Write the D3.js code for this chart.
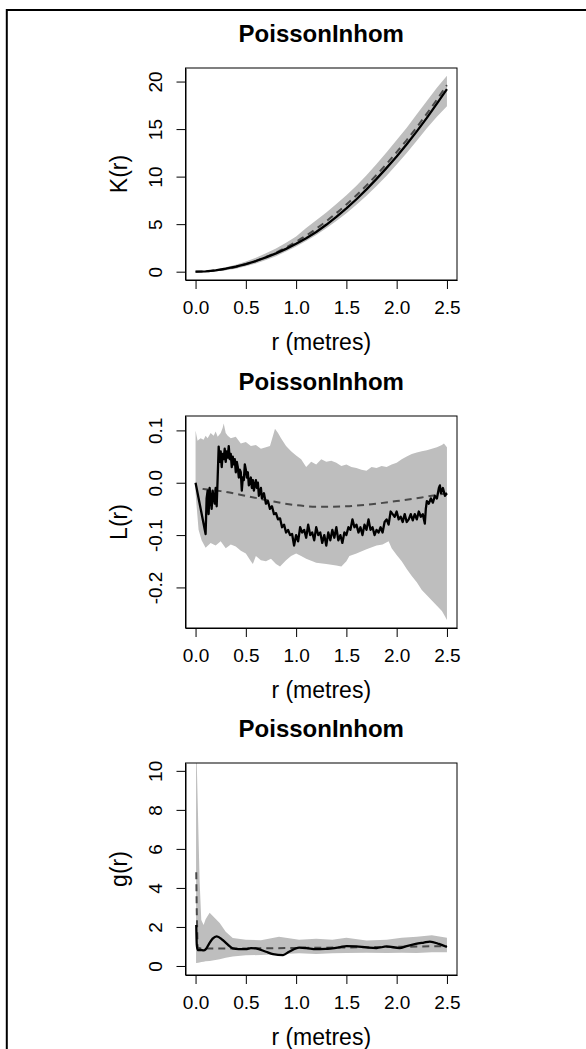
<!DOCTYPE html>
<html><head><meta charset="utf-8">
<script src="https://cdn.jsdelivr.net/npm/d3@7"></script>
<style>
html,body{margin:0;padding:0;background:#fff;}
svg{display:block;font-family:"Liberation Sans",Arial,Helvetica,sans-serif;}
</style></head>
<body>
<svg id="chart" width="586" height="1049"></svg>
<script>
// ---------- data ----------
const titleText = "PoissonInhom";
const xLabel = "r (metres)";
const xLim = [0, 2.5];
const xTicks = [0, 0.5, 1.0, 1.5, 2.0, 2.5];
const xTickLabels = ["0.0", "0.5", "1.0", "1.5", "2.0", "2.5"];

// Panel 1: K(r)
const kLabel = "K(r)";
const kYLim = [-0.05, 20.6];
const kTicks = [0, 5, 10, 15, 20];
const kTickLabels = ["0", "5", "10", "15", "20"];
const kR     = [0,0.1,0.2,0.3,0.4,0.5,0.6,0.7,0.8,0.9,1.0,1.1,1.2,1.3,1.4,1.5,1.6,1.7,1.8,1.9,2.0,2.1,2.2,2.3,2.4,2.5];
const kObs   = [0,0.03,0.14,0.31,0.52,0.80,1.12,1.50,1.93,2.40,2.93,3.52,4.18,4.93,5.77,6.66,7.62,8.66,9.76,10.92,12.12,13.40,14.76,16.18,17.68,19.20];
const kTheo  = [0,0.03,0.13,0.28,0.50,0.79,1.13,1.54,2.01,2.54,3.14,3.80,4.52,5.31,6.16,7.07,8.04,9.08,10.18,11.34,12.57,13.85,15.20,16.62,18.10,19.63];
const kHi    = [0,0.08,0.26,0.47,0.74,1.07,1.47,1.93,2.45,3.05,3.70,4.60,5.40,6.22,7.12,8.05,9.05,10.15,11.32,12.55,13.85,15.15,16.55,17.95,19.35,20.60];
const kLo    = [0,0,0.05,0.15,0.32,0.56,0.86,1.22,1.63,2.12,2.66,3.22,3.86,4.56,5.32,6.15,7.05,8.00,9.02,10.10,11.28,12.48,13.78,15.08,16.30,17.40];

// Panel 2: L(r)
const lLabel = "L(r)";
const lYLim = [-0.2625, 0.1125];
const lTicks = [-0.2, -0.1, 0.0, 0.1];
const lTickLabels = ["-0.2", "-0.1", "0.0", "0.1"];
const lObsR = [0,0.10,0.11,0.12,0.13,0.14,0.16,0.17,0.19,0.20,0.21,0.22,0.23,0.24,0.25,0.26,0.27,0.28,0.29,0.30,0.31,0.32,0.33,0.34,0.35,0.36,0.37,0.38,0.39,0.40,0.41,0.42,0.43,0.44,0.45,0.46,0.47,0.48,0.49,0.50,0.51,0.52,0.53,0.55,0.56,0.57,0.58,0.60,0.61,0.62,0.63,0.65,0.66,0.68,0.70,0.72,0.74,0.76,0.78,0.80,0.82,0.84,0.86,0.88,0.90,0.92,0.94,0.96,0.98,0.99,1.00,1.02,1.04,1.06,1.08,1.10,1.12,1.14,1.16,1.18,1.20,1.22,1.24,1.26,1.28,1.30,1.32,1.34,1.36,1.38,1.40,1.42,1.44,1.46,1.48,1.50,1.52,1.54,1.56,1.58,1.60,1.62,1.64,1.66,1.68,1.70,1.72,1.74,1.76,1.78,1.80,1.82,1.84,1.86,1.88,1.90,1.92,1.94,1.96,1.98,2.00,2.02,2.04,2.06,2.08,2.10,2.12,2.14,2.16,2.18,2.20,2.22,2.24,2.26,2.28,2.29,2.30,2.32,2.34,2.36,2.38,2.40,2.42,2.43,2.44,2.46,2.48,2.50];
const lObs  = [0,-0.098,-0.030,-0.015,-0.060,-0.010,-0.050,-0.015,-0.040,-0.010,-0.045,0.010,0.069,0.040,0.060,0.030,0.055,0.045,0.065,0.040,0.060,0.048,0.070,0.045,0.055,0.030,0.050,0.035,0.045,0.020,0.040,0.030,0.010,0.025,0.020,-0.015,0.010,0.005,0.035,0.025,0.010,0.020,-0.005,0.010,-0.010,0.005,-0.015,0.005,-0.010,0.000,-0.025,-0.010,-0.030,-0.020,-0.040,-0.035,-0.050,-0.045,-0.060,-0.058,-0.070,-0.068,-0.085,-0.080,-0.095,-0.090,-0.100,-0.098,-0.120,-0.110,-0.100,-0.112,-0.085,-0.095,-0.090,-0.105,-0.080,-0.100,-0.095,-0.110,-0.085,-0.100,-0.095,-0.115,-0.100,-0.120,-0.095,-0.110,-0.090,-0.105,-0.085,-0.110,-0.100,-0.115,-0.095,-0.100,-0.085,-0.090,-0.070,-0.085,-0.080,-0.095,-0.085,-0.100,-0.080,-0.090,-0.070,-0.090,-0.085,-0.100,-0.090,-0.095,-0.085,-0.095,-0.075,-0.070,-0.080,-0.055,-0.060,-0.065,-0.055,-0.070,-0.065,-0.075,-0.060,-0.075,-0.070,-0.060,-0.072,-0.060,-0.070,-0.055,-0.065,-0.060,-0.078,-0.050,-0.035,-0.040,-0.030,-0.038,-0.025,-0.030,-0.010,-0.005,-0.020,-0.010,-0.025,-0.020];
const lTheoR = [0.07,0.25,0.50,0.75,1.00,1.25,1.50,1.75,2.00,2.25,2.50];
const lTheo  = [-0.012,-0.016,-0.025,-0.035,-0.043,-0.046,-0.045,-0.041,-0.035,-0.028,-0.020];
const lHiR = [0,0.02,0.05,0.08,0.10,0.12,0.15,0.18,0.20,0.22,0.25,0.27,0.28,0.30,0.32,0.35,0.40,0.45,0.50,0.55,0.60,0.65,0.70,0.74,0.77,0.79,0.82,0.85,0.90,0.95,1.00,1.05,1.10,1.15,1.20,1.25,1.30,1.35,1.40,1.45,1.50,1.55,1.60,1.65,1.70,1.75,1.80,1.85,1.90,1.95,2.00,2.05,2.10,2.15,2.20,2.25,2.30,2.35,2.40,2.45,2.47,2.50];
const lHi  = [0.100,0.080,0.085,0.082,0.090,0.085,0.095,0.090,0.098,0.088,0.095,0.105,0.113,0.095,0.090,0.085,0.088,0.075,0.078,0.070,0.072,0.065,0.068,0.070,0.090,0.103,0.095,0.085,0.070,0.060,0.052,0.045,0.030,0.040,0.035,0.045,0.040,0.042,0.038,0.032,0.035,0.030,0.028,0.025,0.023,0.030,0.028,0.032,0.030,0.035,0.038,0.045,0.050,0.055,0.058,0.060,0.062,0.065,0.068,0.072,0.075,0.068];
const lLoR = [0,0.03,0.06,0.10,0.15,0.20,0.25,0.30,0.35,0.40,0.45,0.50,0.55,0.57,0.60,0.65,0.70,0.75,0.80,0.84,0.90,0.95,1.00,1.05,1.10,1.20,1.30,1.40,1.45,1.50,1.53,1.60,1.70,1.80,1.86,1.92,1.95,2.00,2.05,2.10,2.15,2.20,2.25,2.30,2.35,2.40,2.45,2.48,2.50];
const lLo  = [-0.020,-0.090,-0.110,-0.124,-0.115,-0.120,-0.112,-0.125,-0.118,-0.122,-0.130,-0.135,-0.150,-0.155,-0.140,-0.148,-0.150,-0.145,-0.155,-0.160,-0.148,-0.140,-0.135,-0.140,-0.145,-0.153,-0.155,-0.158,-0.160,-0.150,-0.140,-0.135,-0.127,-0.120,-0.118,-0.112,-0.125,-0.138,-0.150,-0.165,-0.178,-0.190,-0.205,-0.215,-0.225,-0.235,-0.245,-0.255,-0.262];

// Panel 3: g(r)
const gLabel = "g(r)";
const gYLim = [-0.06, 10.0];
const gTicks = [0, 2, 4, 6, 8, 10];
const gTickLabels = ["0", "2", "4", "6", "8", "10"];
const gObsR = [0.007,0.012,0.02,0.05,0.08,0.10,0.13,0.17,0.21,0.27,0.33,0.37,0.43,0.50,0.55,0.60,0.70,0.77,0.87,0.93,1.03,1.10,1.20,1.30,1.36,1.44,1.50,1.60,1.70,1.80,1.90,2.03,2.10,2.19,2.27,2.33,2.42,2.50];
const gObs  = [2.10,1.10,0.82,0.82,0.80,0.85,1.10,1.40,1.52,1.33,1.05,0.90,0.86,0.86,0.92,0.90,0.73,0.61,0.56,0.73,0.94,0.92,0.86,0.88,0.90,0.97,1.02,1.00,0.95,0.92,1.00,0.92,1.02,1.13,1.20,1.25,1.13,0.97];
const gTheoR = [0.007,0.012,0.02,0.05,0.50,1.00,1.50,2.00,2.50];
const gTheo  = [4.80,2.80,0.95,0.90,0.90,0.92,0.95,0.98,1.02];
const gBandR = [0.005,0.012,0.04,0.057,0.08,0.10,0.14,0.24,0.30,0.37,0.50,0.65,0.83,1.03,1.20,1.36,1.50,1.70,1.90,2.05,2.20,2.35,2.50];
const gHi    = [10.5,10.4,4.4,2.35,2.10,2.40,2.73,2.20,1.76,1.43,1.35,1.32,1.50,1.35,1.40,1.35,1.45,1.30,1.35,1.45,1.50,1.58,1.45];
const gLo    = [0.15,0.15,0.18,0.20,0.22,0.24,0.26,0.35,0.42,0.48,0.55,0.56,0.60,0.65,0.62,0.65,0.66,0.68,0.66,0.68,0.66,0.70,0.70];

// ---------- drawing ----------
const svg = d3.select("#chart");
const FONT_TICK = 19, FONT_LAB = 23, FONT_TITLE = 24;
const box = {left: 185.5, right: 457, h: 212};
const panelTops = [68, 416, 763];
const bandCol = "#bebebe";

// outer frame (top & left edges)
svg.append("line").attr("x1", 6.8).attr("x2", 586).attr("y1", 10).attr("y2", 10)
  .attr("stroke", "#000").attr("stroke-width", 2);
svg.append("line").attr("x1", 6.8).attr("x2", 6.8).attr("y1", 9).attr("y2", 1049)
  .attr("stroke", "#000").attr("stroke-width", 2);

function expand(lim) { const d = (lim[1] - lim[0]) * 0.04; return [lim[0] - d, lim[1] + d]; }

function zip(rs, vs) { return rs.map((r, i) => [r, vs[i]]); }

function panel(idx, cfg) {
  const top = panelTops[idx], bottom = top + box.h;
  const x = d3.scaleLinear().domain(expand(xLim)).range([box.left, box.right]);
  const y = d3.scaleLinear().domain(expand(cfg.ylim)).range([bottom, top]);
  const g = svg.append("g");
  const clipId = "clip" + idx;
  g.append("clipPath").attr("id", clipId).append("rect")
    .attr("x", box.left).attr("y", top).attr("width", box.right - box.left).attr("height", box.h);
  const plot = g.append("g").attr("clip-path", `url(#${clipId})`);

  // envelope band
  const hi = zip(cfg.hiR, cfg.hi), lo = zip(cfg.loR, cfg.lo);
  const poly = hi.concat(lo.slice().reverse());
  plot.append("path")
    .attr("d", d3.line().x(d => x(d[0])).y(d => y(d[1]))(poly) + "Z")
    .attr("fill", bandCol).attr("stroke", "none");

  // theoretical (dashed)
  plot.append("path")
    .attr("d", d3.line().curve(cfg.theoCurve || d3.curveLinear).x(d => x(d[0])).y(d => y(d[1]))(zip(cfg.theoR, cfg.theo)))
    .attr("fill", "none").attr("stroke", "#4a4a4a").attr("stroke-width", 2)
    .attr("stroke-dasharray", "7,5");

  // observed (solid)
  plot.append("path")
    .attr("d", d3.line().curve(cfg.obsCurve || d3.curveLinear).x(d => x(d[0])).y(d => y(d[1]))(zip(cfg.obsR, cfg.obs)))
    .attr("fill", "none").attr("stroke", "#000").attr("stroke-width", 2.3)
    .attr("stroke-linejoin", "round");

  // box
  g.append("rect").attr("x", box.left).attr("y", top)
    .attr("width", box.right - box.left).attr("height", box.h)
    .attr("fill", "none").attr("stroke", "#000").attr("stroke-width", 1);

  // x axis
  const xa = g.append("g").attr("transform", `translate(0,${bottom})`)
    .call(d3.axisBottom(x).tickValues(xTicks).tickFormat((d, i) => xTickLabels[i])
      .tickSizeOuter(0).tickSizeInner(9).tickPadding(12));
  xa.select(".domain").attr("stroke", "#000");
  xa.selectAll(".tick line").attr("stroke", "#000");
  xa.selectAll("text").attr("font-size", FONT_TICK).attr("fill", "#000")
    .attr("font-family", "Liberation Sans, Arial, sans-serif");

  // y axis
  const ya = g.append("g").attr("transform", `translate(${box.left},0)`)
    .call(d3.axisLeft(y).tickValues(cfg.yTicks).tickFormat((d, i) => cfg.yTickLabels[i])
      .tickSizeOuter(0).tickSizeInner(9));
  ya.select(".domain").attr("stroke", "#000");
  ya.selectAll(".tick line").attr("stroke", "#000");
  ya.selectAll("text").attr("font-size", FONT_TICK).attr("fill", "#000")
    .attr("font-family", "Liberation Sans, Arial, sans-serif")
    .attr("transform", "rotate(-90)").attr("x", 0).attr("y", -30).attr("dy", "0.36em")
    .attr("text-anchor", "middle");

  // labels
  g.append("text").attr("x", (box.left + box.right) / 2).attr("y", bottom + 62)
    .attr("dy", "0.36em").attr("text-anchor", "middle").attr("font-size", FONT_LAB)
    .text(xLabel);
  g.append("text").attr("transform", `translate(${box.left - 67},${(top + bottom) / 2}) rotate(-90)`)
    .attr("dy", "0.36em").attr("text-anchor", "middle").attr("font-size", FONT_LAB)
    .text(cfg.ylab);
  g.append("text").attr("x", (box.left + box.right) / 2).attr("y", top - 35)
    .attr("dy", "0.36em").attr("text-anchor", "middle").attr("font-size", FONT_TITLE)
    .attr("font-weight", "bold").text(titleText);
}

panel(0, {ylim: kYLim, yTicks: kTicks, yTickLabels: kTickLabels, ylab: kLabel,
  hiR: kR, hi: kHi, loR: kR, lo: kLo, theoR: kR, theo: kTheo, obsR: kR, obs: kObs,
  theoCurve: d3.curveMonotoneX, obsCurve: d3.curveLinear});
panel(1, {ylim: lYLim, yTicks: lTicks, yTickLabels: lTickLabels, ylab: lLabel,
  hiR: lHiR, hi: lHi, loR: lLoR, lo: lLo, theoR: lTheoR, theo: lTheo, obsR: lObsR, obs: lObs,
  theoCurve: d3.curveMonotoneX});
panel(2, {ylim: gYLim, yTicks: gTicks, yTickLabels: gTickLabels, ylab: gLabel,
  hiR: gBandR, hi: gHi, loR: gBandR, lo: gLo, theoR: gTheoR, theo: gTheo, obsR: gObsR, obs: gObs,
  theoCurve: d3.curveLinear, obsCurve: d3.curveMonotoneX});
</script>
</body></html>
